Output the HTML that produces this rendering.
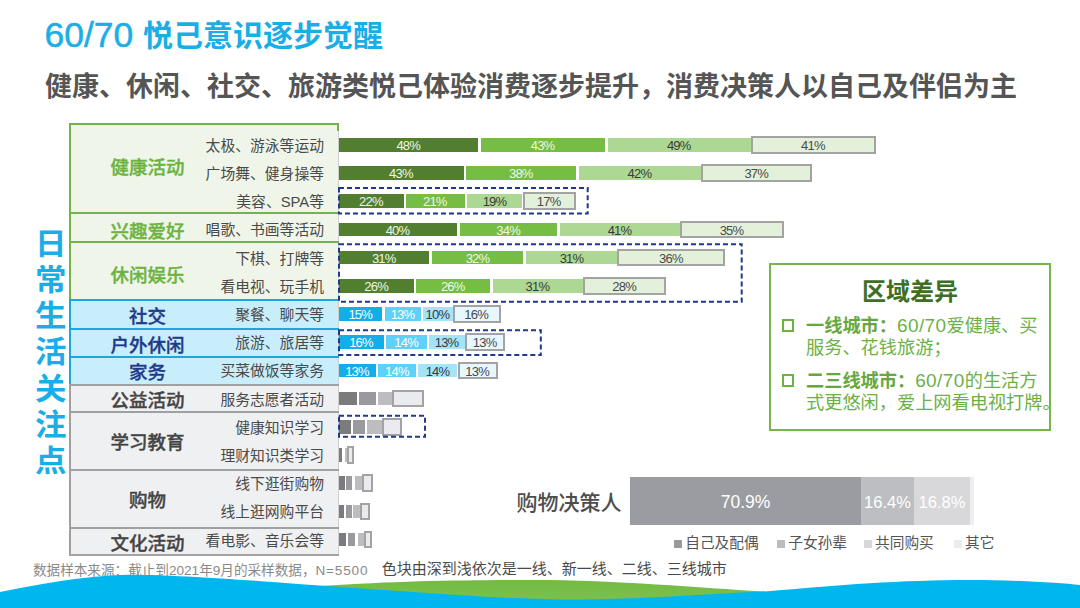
<!DOCTYPE html>
<html><head><meta charset="utf-8"><title>60/70 悦己意识逐步觉醒</title>
<style>
*{margin:0;padding:0;box-sizing:border-box}
html,body{width:1080px;height:608px;overflow:hidden;background:#fff}
body{position:relative;font-family:"Liberation Sans","Noto Sans CJK SC",sans-serif}
.abs{position:absolute}
.t{position:absolute;white-space:nowrap;line-height:1}
.sec{position:absolute;left:69px;width:270px}
.bar{position:absolute;height:13.5px}
.lbl{position:absolute;font-size:13px;line-height:16.5px;text-align:center;letter-spacing:-0.8px;text-indent:-0.8px;font-family:"Liberation Sans","Noto Sans CJK SC",sans-serif}
.box{position:absolute;border:2px solid #a3a3a3}
.sub{position:absolute;right:756px;font-size:14.8px;line-height:16px;color:#4a4a4a;white-space:nowrap}
.cat{position:absolute;left:69px;width:157px;text-align:center;font-size:18.5px;line-height:20px;font-weight:500;-webkit-text-stroke:0.35px currentColor;white-space:nowrap}
</style></head><body>

<div class="t" style="left:44.5px;top:18px;color:#1aaee6;font-size:35.5px;-webkit-text-stroke:0.5px #1aaee6">60/70</div>
<div class="t" style="left:143px;top:21.4px;color:#1aaee6;font-size:30px;font-weight:700;font-family:'Liberation Sans','Noto Sans CJK SC',sans-serif">悦己意识逐步觉醒</div>
<div class="t" style="left:45px;top:73.5px;color:#555;font-size:27px;font-weight:700;font-family:'Liberation Sans','Noto Sans CJK SC',sans-serif;letter-spacing:0px">健康、休闲、社交、旅游类悦己体验消费逐步提升，消费决策人以自己及伴侣为主</div>
<div class="t" style="left:35px;top:228.8px;width:30px;text-align:center;font-size:31.5px;line-height:30px;font-weight:700;color:#1aaee6;transform:scaleY(0.94);font-family:'Liberation Sans','Noto Sans CJK SC',sans-serif">日</div>
<div class="t" style="left:35px;top:265.0px;width:30px;text-align:center;font-size:31.5px;line-height:30px;font-weight:700;color:#1aaee6;transform:scaleY(0.94);font-family:'Liberation Sans','Noto Sans CJK SC',sans-serif">常</div>
<div class="t" style="left:35px;top:301.2px;width:30px;text-align:center;font-size:31.5px;line-height:30px;font-weight:700;color:#1aaee6;transform:scaleY(0.94);font-family:'Liberation Sans','Noto Sans CJK SC',sans-serif">生</div>
<div class="t" style="left:35px;top:337.4px;width:30px;text-align:center;font-size:31.5px;line-height:30px;font-weight:700;color:#1aaee6;transform:scaleY(0.94);font-family:'Liberation Sans','Noto Sans CJK SC',sans-serif">活</div>
<div class="t" style="left:35px;top:373.6px;width:30px;text-align:center;font-size:31.5px;line-height:30px;font-weight:700;color:#1aaee6;transform:scaleY(0.94);font-family:'Liberation Sans','Noto Sans CJK SC',sans-serif">关</div>
<div class="t" style="left:35px;top:409.8px;width:30px;text-align:center;font-size:31.5px;line-height:30px;font-weight:700;color:#1aaee6;transform:scaleY(0.94);font-family:'Liberation Sans','Noto Sans CJK SC',sans-serif">注</div>
<div class="t" style="left:35px;top:446.0px;width:30px;text-align:center;font-size:31.5px;line-height:30px;font-weight:700;color:#1aaee6;transform:scaleY(0.94);font-family:'Liberation Sans','Noto Sans CJK SC',sans-serif">点</div>
<div class="abs" style="left:69px;top:123px;width:270px;height:91px;background:#eff5e9;border-left:2px solid #74b24d;border-right:1.5px solid #cfcfd2"></div>
<div class="abs" style="left:69px;top:212px;width:270px;height:31px;background:#eff5e9;border-left:2px solid #74b24d;border-right:1.5px solid #cfcfd2"></div>
<div class="abs" style="left:69px;top:241px;width:270px;height:60px;background:#eff5e9;border-left:2px solid #74b24d;border-right:1.5px solid #cfcfd2"></div>
<div class="abs" style="left:69px;top:299px;width:270px;height:31px;background:#c9eefb;border-left:2px solid #1ca6dc;border-right:1.5px solid #cfcfd2"></div>
<div class="abs" style="left:69px;top:328px;width:270px;height:30px;background:#c9eefb;border-left:2px solid #1ca6dc;border-right:1.5px solid #cfcfd2"></div>
<div class="abs" style="left:69px;top:356px;width:270px;height:30px;background:#c9eefb;border-left:2px solid #1ca6dc;border-right:1.5px solid #cfcfd2"></div>
<div class="abs" style="left:69px;top:384px;width:270px;height:29px;background:#eff0f2;border-left:2px solid #a0a0a0;border-right:1.5px solid #cfcfd2"></div>
<div class="abs" style="left:69px;top:411px;width:270px;height:60px;background:#eff0f2;border-left:2px solid #a0a0a0;border-right:1.5px solid #cfcfd2"></div>
<div class="abs" style="left:69px;top:469px;width:270px;height:60px;background:#eff0f2;border-left:2px solid #a0a0a0;border-right:1.5px solid #cfcfd2"></div>
<div class="abs" style="left:69px;top:527px;width:270px;height:29px;background:#eff0f2;border-left:2px solid #a0a0a0;border-right:1.5px solid #cfcfd2"></div>
<div class="abs" style="left:69px;top:123px;width:270px;height:2px;background:#74b24d"></div>
<div class="abs" style="left:69px;top:212px;width:270px;height:2px;background:#74b24d"></div>
<div class="abs" style="left:69px;top:241px;width:270px;height:2px;background:#74b24d"></div>
<div class="abs" style="left:69px;top:299px;width:270px;height:2px;background:#1ca6dc"></div>
<div class="abs" style="left:69px;top:328px;width:270px;height:2px;background:#1ca6dc"></div>
<div class="abs" style="left:69px;top:356px;width:270px;height:2px;background:#1ca6dc"></div>
<div class="abs" style="left:69px;top:384px;width:270px;height:2px;background:#a0a0a0"></div>
<div class="abs" style="left:69px;top:411px;width:270px;height:2px;background:#a0a0a0"></div>
<div class="abs" style="left:69px;top:469px;width:270px;height:2px;background:#a0a0a0"></div>
<div class="abs" style="left:69px;top:527px;width:270px;height:2px;background:#a0a0a0"></div>
<div class="abs" style="left:337px;top:123px;width:2px;height:8px;background:#78b050"></div>
<div class="abs" style="left:69px;top:554px;width:270px;height:2px;background:#a3a3a3"></div>
<div class="cat" style="top:158.1px;color:#6cb33f;font-family:'Liberation Sans','Noto Sans CJK SC',sans-serif;left:69px;width:157px">健康活动</div>
<div class="cat" style="top:221.9px;color:#6cb33f;font-family:'Liberation Sans','Noto Sans CJK SC',sans-serif;left:69px;width:157px">兴趣爱好</div>
<div class="cat" style="top:266.0px;color:#6cb33f;font-family:'Liberation Sans','Noto Sans CJK SC',sans-serif;left:69px;width:157px">休闲娱乐</div>
<div class="cat" style="top:306.7px;color:#1f3a8a;font-family:'Liberation Sans','Noto Sans CJK SC',sans-serif;left:69px;width:157px">社交</div>
<div class="cat" style="top:336.0px;color:#1f3a8a;font-family:'Liberation Sans','Noto Sans CJK SC',sans-serif;left:69px;width:157px">户外休闲</div>
<div class="cat" style="top:362.9px;color:#1f3a8a;font-family:'Liberation Sans','Noto Sans CJK SC',sans-serif;left:69px;width:157px">家务</div>
<div class="cat" style="top:391.2px;color:#444;font-family:'Liberation Sans','Noto Sans CJK SC',sans-serif;left:69px;width:157px">公益活动</div>
<div class="cat" style="top:432.7px;color:#444;font-family:'Liberation Sans','Noto Sans CJK SC',sans-serif;left:69px;width:157px">学习教育</div>
<div class="cat" style="top:490.6px;color:#444;font-family:'Liberation Sans','Noto Sans CJK SC',sans-serif;left:69px;width:157px">购物</div>
<div class="cat" style="top:533.7px;color:#444;font-family:'Liberation Sans','Noto Sans CJK SC',sans-serif;left:69px;width:157px">文化活动</div>
<div class="sub" style="top:137.7px;font-family:'Liberation Sans','Noto Sans CJK SC',sans-serif">太极、游泳等运动</div>
<div class="sub" style="top:165.9px;font-family:'Liberation Sans','Noto Sans CJK SC',sans-serif">广场舞、健身操等</div>
<div class="sub" style="top:194.1px;font-family:'Liberation Sans','Noto Sans CJK SC',sans-serif">美容、SPA等</div>
<div class="sub" style="top:222.3px;font-family:'Liberation Sans','Noto Sans CJK SC',sans-serif">唱歌、书画等活动</div>
<div class="sub" style="top:250.5px;font-family:'Liberation Sans','Noto Sans CJK SC',sans-serif">下棋、打牌等</div>
<div class="sub" style="top:278.7px;font-family:'Liberation Sans','Noto Sans CJK SC',sans-serif">看电视、玩手机</div>
<div class="sub" style="top:306.9px;font-family:'Liberation Sans','Noto Sans CJK SC',sans-serif">聚餐、聊天等</div>
<div class="sub" style="top:335.1px;font-family:'Liberation Sans','Noto Sans CJK SC',sans-serif">旅游、旅居等</div>
<div class="sub" style="top:363.3px;font-family:'Liberation Sans','Noto Sans CJK SC',sans-serif">买菜做饭等家务</div>
<div class="sub" style="top:391.5px;font-family:'Liberation Sans','Noto Sans CJK SC',sans-serif">服务志愿者活动</div>
<div class="sub" style="top:419.7px;font-family:'Liberation Sans','Noto Sans CJK SC',sans-serif">健康知识学习</div>
<div class="sub" style="top:447.9px;font-family:'Liberation Sans','Noto Sans CJK SC',sans-serif">理财知识类学习</div>
<div class="sub" style="top:476.1px;font-family:'Liberation Sans','Noto Sans CJK SC',sans-serif">线下逛街购物</div>
<div class="sub" style="top:504.3px;font-family:'Liberation Sans','Noto Sans CJK SC',sans-serif">线上逛网购平台</div>
<div class="sub" style="top:532.5px;font-family:'Liberation Sans','Noto Sans CJK SC',sans-serif">看电影、音乐会等</div>
<div class="bar" style="left:339.00px;top:138.00px;width:139.25px;background:#527f2f"></div>
<div class="lbl" style="left:339.00px;top:138.00px;width:139.25px;color:#eef7e4">48%</div>
<div class="bar" style="left:481.00px;top:138.00px;width:123.90px;background:#76bd43"></div>
<div class="lbl" style="left:481.00px;top:138.00px;width:123.90px;color:#eef7e4">43%</div>
<div class="bar" style="left:607.50px;top:138.00px;width:143.25px;background:#acd893"></div>
<div class="lbl" style="left:607.50px;top:138.00px;width:143.25px;color:#3a3a3a">49%</div>
<div class="box" style="left:750.75px;top:136.00px;width:125.00px;height:17.5px;background:#e3f0da"></div>
<div class="lbl" style="left:750.75px;top:138.00px;width:125.00px;color:#4a4a4a">41%</div>
<div class="bar" style="left:339.00px;top:166.20px;width:124.50px;background:#527f2f"></div>
<div class="lbl" style="left:339.00px;top:166.20px;width:124.50px;color:#eef7e4">43%</div>
<div class="bar" style="left:466.00px;top:166.20px;width:110.40px;background:#76bd43"></div>
<div class="lbl" style="left:466.00px;top:166.20px;width:110.40px;color:#eef7e4">38%</div>
<div class="bar" style="left:578.60px;top:166.20px;width:122.30px;background:#acd893"></div>
<div class="lbl" style="left:578.60px;top:166.20px;width:122.30px;color:#3a3a3a">42%</div>
<div class="box" style="left:700.90px;top:164.20px;width:111.50px;height:17.5px;background:#e3f0da"></div>
<div class="lbl" style="left:700.90px;top:166.20px;width:111.50px;color:#4a4a4a">37%</div>
<div class="bar" style="left:339.00px;top:194.40px;width:64.50px;background:#527f2f"></div>
<div class="lbl" style="left:339.00px;top:194.40px;width:64.50px;color:#eef7e4">22%</div>
<div class="bar" style="left:405.50px;top:194.40px;width:59.40px;background:#76bd43"></div>
<div class="lbl" style="left:405.50px;top:194.40px;width:59.40px;color:#eef7e4">21%</div>
<div class="bar" style="left:467.20px;top:194.40px;width:55.30px;background:#acd893"></div>
<div class="lbl" style="left:467.20px;top:194.40px;width:55.30px;color:#3a3a3a">19%</div>
<div class="box" style="left:522.50px;top:192.40px;width:53.00px;height:17.5px;background:#e3f0da"></div>
<div class="lbl" style="left:522.50px;top:194.40px;width:53.00px;color:#4a4a4a">17%</div>
<div class="bar" style="left:339.00px;top:222.60px;width:117.70px;background:#527f2f"></div>
<div class="lbl" style="left:339.00px;top:222.60px;width:117.70px;color:#eef7e4">40%</div>
<div class="bar" style="left:459.60px;top:222.60px;width:97.90px;background:#76bd43"></div>
<div class="lbl" style="left:459.60px;top:222.60px;width:97.90px;color:#eef7e4">34%</div>
<div class="bar" style="left:559.80px;top:222.60px;width:120.20px;background:#acd893"></div>
<div class="lbl" style="left:559.80px;top:222.60px;width:120.20px;color:#3a3a3a">41%</div>
<div class="box" style="left:680.00px;top:220.60px;width:103.70px;height:17.5px;background:#e3f0da"></div>
<div class="lbl" style="left:680.00px;top:222.60px;width:103.70px;color:#4a4a4a">35%</div>
<div class="bar" style="left:339.00px;top:250.80px;width:90.30px;background:#527f2f"></div>
<div class="lbl" style="left:339.00px;top:250.80px;width:90.30px;color:#eef7e4">31%</div>
<div class="bar" style="left:432.20px;top:250.80px;width:91.30px;background:#76bd43"></div>
<div class="lbl" style="left:432.20px;top:250.80px;width:91.30px;color:#eef7e4">32%</div>
<div class="bar" style="left:526.40px;top:250.80px;width:90.90px;background:#acd893"></div>
<div class="lbl" style="left:526.40px;top:250.80px;width:90.90px;color:#3a3a3a">31%</div>
<div class="box" style="left:617.30px;top:248.80px;width:108.00px;height:17.5px;background:#e3f0da"></div>
<div class="lbl" style="left:617.30px;top:250.80px;width:108.00px;color:#4a4a4a">36%</div>
<div class="bar" style="left:339.00px;top:279.00px;width:75.00px;background:#527f2f"></div>
<div class="lbl" style="left:339.00px;top:279.00px;width:75.00px;color:#eef7e4">26%</div>
<div class="bar" style="left:416.40px;top:279.00px;width:73.40px;background:#76bd43"></div>
<div class="lbl" style="left:416.40px;top:279.00px;width:73.40px;color:#eef7e4">26%</div>
<div class="bar" style="left:492.70px;top:279.00px;width:90.10px;background:#acd893"></div>
<div class="lbl" style="left:492.70px;top:279.00px;width:90.10px;color:#3a3a3a">31%</div>
<div class="box" style="left:582.80px;top:277.00px;width:83.40px;height:17.5px;background:#e3f0da"></div>
<div class="lbl" style="left:582.80px;top:279.00px;width:83.40px;color:#4a4a4a">28%</div>
<div class="bar" style="left:339.00px;top:307.20px;width:43.20px;background:#12aee9"></div>
<div class="lbl" style="left:339.00px;top:307.20px;width:43.20px;color:#ffffff">15%</div>
<div class="bar" style="left:385.00px;top:307.20px;width:35.80px;background:#5fd0f7"></div>
<div class="lbl" style="left:385.00px;top:307.20px;width:35.80px;color:#ffffff">13%</div>
<div class="bar" style="left:423.00px;top:307.20px;width:29.50px;background:#a5e3f8"></div>
<div class="lbl" style="left:423.00px;top:307.20px;width:29.50px;color:#3a3a3a">10%</div>
<div class="box" style="left:452.50px;top:305.20px;width:48.00px;height:17.5px;background:#e8f6fd"></div>
<div class="lbl" style="left:452.50px;top:307.20px;width:48.00px;color:#4a4a4a">16%</div>
<div class="bar" style="left:339.00px;top:335.40px;width:44.80px;background:#12aee9"></div>
<div class="lbl" style="left:339.00px;top:335.40px;width:44.80px;color:#ffffff">16%</div>
<div class="bar" style="left:386.30px;top:335.40px;width:40.40px;background:#5fd0f7"></div>
<div class="lbl" style="left:386.30px;top:335.40px;width:40.40px;color:#ffffff">14%</div>
<div class="bar" style="left:429.20px;top:335.40px;width:35.50px;background:#a5e3f8"></div>
<div class="lbl" style="left:429.20px;top:335.40px;width:35.50px;color:#3a3a3a">13%</div>
<div class="box" style="left:464.70px;top:333.40px;width:40.60px;height:17.5px;background:#e8f6fd"></div>
<div class="lbl" style="left:464.70px;top:335.40px;width:40.60px;color:#4a4a4a">13%</div>
<div class="bar" style="left:339.00px;top:363.60px;width:36.80px;background:#12aee9"></div>
<div class="lbl" style="left:339.00px;top:363.60px;width:36.80px;color:#ffffff">13%</div>
<div class="bar" style="left:378.30px;top:363.60px;width:37.90px;background:#5fd0f7"></div>
<div class="lbl" style="left:378.30px;top:363.60px;width:37.90px;color:#ffffff">14%</div>
<div class="bar" style="left:418.30px;top:363.60px;width:39.20px;background:#a5e3f8"></div>
<div class="lbl" style="left:418.30px;top:363.60px;width:39.20px;color:#3a3a3a">14%</div>
<div class="box" style="left:457.50px;top:361.60px;width:40.00px;height:17.5px;background:#e8f6fd"></div>
<div class="lbl" style="left:457.50px;top:363.60px;width:40.00px;color:#4a4a4a">13%</div>
<div class="bar" style="left:339.00px;top:391.80px;width:17.80px;background:#7b7b7b"></div>
<div class="bar" style="left:359.20px;top:391.80px;width:16.70px;background:#999a9e"></div>
<div class="bar" style="left:378.10px;top:391.80px;width:14.20px;background:#bdbdc0"></div>
<div class="box" style="left:392.30px;top:389.80px;width:31.60px;height:17.5px;background:#eaebee"></div>
<div class="bar" style="left:339.00px;top:420.00px;width:11.70px;background:#7b7b7b"></div>
<div class="bar" style="left:352.50px;top:420.00px;width:12.70px;background:#999a9e"></div>
<div class="bar" style="left:366.90px;top:420.00px;width:15.00px;background:#bdbdc0"></div>
<div class="box" style="left:381.90px;top:418.00px;width:20.10px;height:17.5px;background:#eaebee"></div>
<div class="bar" style="left:339.00px;top:448.20px;width:2.75px;background:#7b7b7b"></div>
<div class="bar" style="left:345.00px;top:448.20px;width:2.25px;background:#bdbdc0"></div>
<div class="box" style="left:347.25px;top:446.20px;width:6.75px;height:17.5px;background:#eaebee"></div>
<div class="bar" style="left:339.20px;top:476.40px;width:5.80px;background:#7b7b7b"></div>
<div class="bar" style="left:346.30px;top:476.40px;width:6.10px;background:#999a9e"></div>
<div class="bar" style="left:354.90px;top:476.40px;width:7.10px;background:#bdbdc0"></div>
<div class="box" style="left:362.00px;top:474.40px;width:11.00px;height:17.5px;background:#eaebee"></div>
<div class="bar" style="left:339.20px;top:504.60px;width:4.60px;background:#7b7b7b"></div>
<div class="bar" style="left:346.00px;top:504.60px;width:5.60px;background:#999a9e"></div>
<div class="bar" style="left:353.40px;top:504.60px;width:6.90px;background:#bdbdc0"></div>
<div class="box" style="left:360.30px;top:502.60px;width:9.40px;height:17.5px;background:#eaebee"></div>
<div class="bar" style="left:339.20px;top:532.80px;width:6.60px;background:#7b7b7b"></div>
<div class="bar" style="left:348.00px;top:532.80px;width:7.40px;background:#999a9e"></div>
<div class="bar" style="left:357.80px;top:532.80px;width:5.80px;background:#bdbdc0"></div>
<div class="box" style="left:363.60px;top:530.80px;width:8.20px;height:17.5px;background:#eaebee"></div>
<svg class="abs" style="left:0;top:0" width="1080" height="608" viewBox="0 0 1080 608">
<rect x="339" y="188" width="248.7" height="25.6" fill="none" stroke="#1f3a8a" stroke-width="2" stroke-dasharray="5 3"/>
<rect x="339" y="244.2" width="402.7" height="57.6" fill="none" stroke="#1f3a8a" stroke-width="2" stroke-dasharray="5 3"/>
<rect x="339" y="330.3" width="201.8" height="24.7" fill="none" stroke="#1f3a8a" stroke-width="2" stroke-dasharray="5 3"/>
<rect x="339" y="415.8" width="86.0" height="21.0" fill="none" stroke="#1f3a8a" stroke-width="2" stroke-dasharray="5 3"/>
</svg>
<div class="abs" style="left:769px;top:263px;width:282px;height:168px;border:2px solid #75b64c;background:#fff"></div>
<div class="t" style="left:862px;top:280.3px;font-size:24px;font-weight:700;color:#3e6f25;font-family:'Liberation Sans','Noto Sans CJK SC',sans-serif">区域差异</div>
<div class="t" style="left:806px;top:314.8px;font-size:18.2px;line-height:22.5px;color:#6cb046;font-family:'Liberation Sans','Noto Sans CJK SC',sans-serif"><span style="display:inline-block;width:12.5px;height:12.5px;border:2.5px solid #6cb33e;position:absolute;left:-24.5px;top:4.5px"></span><b style="color:#66a83f">一线城市：</b><span style="font-size:19px;letter-spacing:0.4px">60/70</span>爱健康、买<br>服务、花钱旅游；</div>
<div class="t" style="left:806px;top:369.8px;font-size:18.2px;line-height:22.5px;color:#6cb046;font-family:'Liberation Sans','Noto Sans CJK SC',sans-serif"><span style="display:inline-block;width:12.5px;height:12.5px;border:2.5px solid #6cb33e;position:absolute;left:-24.5px;top:4.5px"></span><b style="color:#66a83f">二三线城市：</b><span style="font-size:19px;letter-spacing:0.4px">60/70</span>的生活方<br>式更悠闲，爱上网看电视打牌。</div>
<div class="t" style="left:516.5px;top:492.2px;font-size:21px;font-weight:500;color:#4d4d4d;font-family:'Liberation Sans','Noto Sans CJK SC',sans-serif">购物决策人</div>
<div class="abs" style="left:630px;top:477.3px;width:231.1px;height:47.6px;background:#9a9ca2"></div>
<div class="t" style="left:630px;top:494.4px;width:231.1px;text-align:center;color:#fff;font-size:17.5px;font-family:'Liberation Sans','Noto Sans CJK SC',sans-serif">70.9%</div>
<div class="abs" style="left:861.1px;top:477.3px;width:52.8px;height:47.6px;background:#bdbec1"></div>
<div class="t" style="left:861.1px;top:493.9px;width:52.8px;text-align:center;color:#fff;font-size:16.5px;font-family:'Liberation Sans','Noto Sans CJK SC',sans-serif">16.4%</div>
<div class="abs" style="left:913.9px;top:477.3px;width:56.2px;height:47.6px;background:#d8d8da"></div>
<div class="t" style="left:913.9px;top:493.9px;width:56.2px;text-align:center;color:#fff;font-size:16.5px;font-family:'Liberation Sans','Noto Sans CJK SC',sans-serif">16.8%</div>
<div class="abs" style="left:970.1px;top:477.3px;width:4.0px;height:47.6px;background:#eeeef0"></div>
<div class="abs" style="left:673.7px;top:540px;width:8px;height:8px;background:#999a9e"></div>
<div class="t" style="left:685.2px;top:536.2px;font-size:14.7px;color:#555;font-family:'Liberation Sans','Noto Sans CJK SC',sans-serif">自己及配偶</div>
<div class="abs" style="left:776.7px;top:540px;width:8px;height:8px;background:#bcbdc0"></div>
<div class="t" style="left:788.2px;top:536.2px;font-size:14.7px;color:#555;font-family:'Liberation Sans','Noto Sans CJK SC',sans-serif">子女孙辈</div>
<div class="abs" style="left:863.5px;top:540px;width:8px;height:8px;background:#d8d8da"></div>
<div class="t" style="left:875.0px;top:536.2px;font-size:14.7px;color:#555;font-family:'Liberation Sans','Noto Sans CJK SC',sans-serif">共同购买</div>
<div class="abs" style="left:953.5px;top:540px;width:8px;height:8px;background:#ebebed"></div>
<div class="t" style="left:965.0px;top:536.2px;font-size:14.7px;color:#555;font-family:'Liberation Sans','Noto Sans CJK SC',sans-serif">其它</div>
<div class="t" style="left:33px;top:563.5px;font-size:13.6px;color:#8a8a8a;font-family:'Liberation Sans','Noto Sans CJK SC',sans-serif">数据样本来源：截止到2021年9月的采样数据，<span style="letter-spacing:0.8px">N=5500</span></div>
<div class="t" style="left:381.8px;top:561.2px;font-size:15px;color:#4a4a4a;font-family:'Liberation Sans','Noto Sans CJK SC',sans-serif">色块由深到浅依次是一线、新一线、二线、三线城市</div>
<svg class="abs" style="left:0;top:0" width="1080" height="608" viewBox="0 0 1080 608">
<defs><linearGradient id="gg" x1="0" y1="0" x2="0" y2="1"><stop offset="0" stop-color="#72bb42"/><stop offset="1" stop-color="#80c250"/></linearGradient></defs>
<path d="M320 586 C 400 581, 460 580, 530 580 C 620 580, 700 588, 765 591.5 L 765 608 L 320 608 Z" fill="url(#gg)"/>
<path d="M0 592 C 40 584, 80 576, 127 574.7 C 180 574.5, 270 582, 340 587 C 420 592, 500 599, 560 599.5 C 640 600, 700 594, 765 591.5 C 840 585, 900 580, 970 580 C 1020 580, 1060 583, 1080 585 L 1080 608 L 0 608 Z" fill="#00b6ee"/>
</svg>
</body></html>
